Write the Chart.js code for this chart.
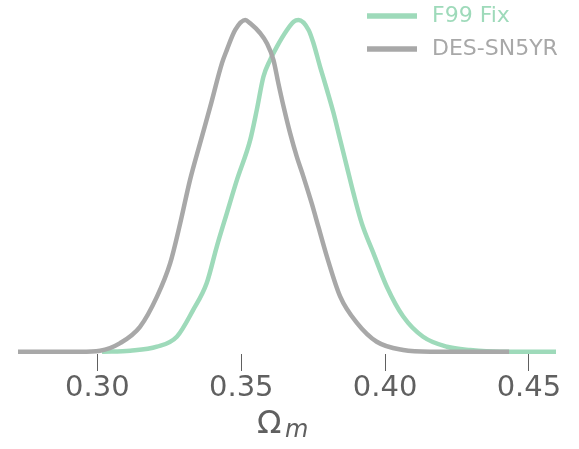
<!DOCTYPE html>
<html>
<head>
<meta charset="utf-8">
<script src="https://cdn.jsdelivr.net/npm/chart.js@4/dist/chart.umd.min.js"></script>
<style>
  html, body { margin: 0; padding: 0; background: #fff; }
  canvas { display: block; }
</style>
</head>
<body>
<canvas id="chart" width="579" height="449"></canvas>
<script>
// Series labels
const SERIES = ['F99 Fix', 'DES-SN5YR'];

// F99 Fix (green) - Omega_m vs normalised density
const F99_X = [0.3016, 0.3114, 0.3207, 0.3276, 0.3333, 0.3380, 0.3415, 0.3450, 0.3485, 0.3531,
               0.3554, 0.3577, 0.3600, 0.3624, 0.3659, 0.3682, 0.3699, 0.3734, 0.3751, 0.3774,
               0.3798, 0.3821, 0.3844, 0.3867, 0.3890, 0.3919, 0.3959, 0.4006, 0.4063, 0.4132,
               0.4215, 0.4296, 0.4400, 0.4594];
const F99_Y = [0, 0.003, 0.015, 0.045, 0.126, 0.207, 0.317, 0.418, 0.518, 0.638,
               0.729, 0.829, 0.879, 0.920, 0.970, 0.995, 1.0, 0.970, 0.930, 0.859,
               0.789, 0.719, 0.638, 0.558, 0.478, 0.387, 0.298, 0.196, 0.106, 0.045,
               0.015, 0.005, 0, 0];

// DES-SN5YR (gray)
const DES_X = [0.2724, 0.2940, 0.3009, 0.3079, 0.3148, 0.3207, 0.3253, 0.3288, 0.3322, 0.3357,
               0.3392, 0.3433, 0.3450, 0.3479, 0.3514, 0.3531, 0.3566, 0.3589, 0.3612, 0.3629,
               0.3647, 0.3670, 0.3693, 0.3716, 0.3745, 0.3768, 0.3798, 0.3844, 0.3902, 0.3971,
               0.4063, 0.4157, 0.4431];
const DES_Y = [0, 0, 0.003, 0.026, 0.075, 0.166, 0.267, 0.388, 0.518, 0.629,
               0.738, 0.870, 0.910, 0.970, 1.0, 0.990, 0.960, 0.930, 0.879, 0.809,
               0.739, 0.658, 0.588, 0.528, 0.447, 0.377, 0.286, 0.166, 0.087, 0.030,
               0.005, 0, 0];

// x-axis ticks
const X_TICKS = [0.30, 0.35, 0.40, 0.45];
const X_MIN = 0.2724;
const X_MAX = 0.4594;

const GREEN = 'rgb(158,218,186)';
const GRAY  = 'rgb(168,168,168)';
const TEXT  = 'rgb(96,96,96)';
const FONT  = "'DejaVu Sans', sans-serif";

function toPoints(xs, ys) {
  return xs.map((x, i) => ({ x, y: ys[i] }));
}

// legend swatch: a short thick line followed by blank space
function swatch(color) {
  const c = document.createElement('canvas');
  c.width = 54;
  c.height = 12;
  const g = c.getContext('2d');
  g.strokeStyle = color;
  g.lineWidth = 5.5;
  g.beginPath();
  g.moveTo(0, 6);
  g.lineTo(50, 6);
  g.stroke();
  return c;
}

// Omega_m axis label (italic subscript m)
const axisLabel = {
  id: 'axisLabel',
  afterDraw(chart) {
    const sx = chart.scales.x;
    const cx = (sx.left + sx.right) / 2;
    const ctx = chart.ctx;
    ctx.save();
    ctx.fillStyle = TEXT;
    ctx.textBaseline = 'alphabetic';
    ctx.textAlign = 'left';
    ctx.font = '32px ' + FONT;
    ctx.fillText('Ω', cx - 30, 433);
    ctx.font = 'italic 24px ' + FONT;
    ctx.fillText('m', cx - 2, 437);
    ctx.restore();
  }
};

// put legend in the top-right corner, over the plot
const legendPlace = {
  id: 'legendPlace',
  beforeDraw(chart) {
    const lg = chart.legend;
    if (!lg) return;
    const w = lg.width, h = lg.height;
    lg.left = 356;
    lg.top = -6;
    lg.right = lg.left + w;
    lg.bottom = lg.top + h;
    lg.adjustHitBoxes();
  }
};

new Chart(document.getElementById('chart'), {
  type: 'line',
  data: {
    datasets: [
      {
        label: SERIES[0],
        data: toPoints(F99_X, F99_Y),
        borderColor: GREEN,
        borderWidth: 4.5,
        pointRadius: 0,
        pointStyle: swatch(GREEN),
        cubicInterpolationMode: 'monotone',
        fill: false,
        order: 1,
      },
      {
        label: SERIES[1],
        data: toPoints(DES_X, DES_Y),
        borderColor: GRAY,
        borderWidth: 4.5,
        pointRadius: 0,
        pointStyle: swatch(GRAY),
        cubicInterpolationMode: 'monotone',
        fill: false,
        order: 0,
      },
    ],
  },
  options: {
    responsive: false,
    animation: false,
    devicePixelRatio: 1,
    layout: { padding: { left: 18, right: 23, top: 0, bottom: 0 } },
    plugins: {
      legend: {
        position: 'chartArea',
        align: 'start',
        labels: {
          usePointStyle: true,
          pointStyleWidth: 54,
          padding: 11,
          font: { family: FONT, size: 22 },
          sort: (a, b) => a.datasetIndex - b.datasetIndex,
          generateLabels(chart) {
            const items = Chart.defaults.plugins.legend.labels.generateLabels(chart);
            items.forEach((it) => { it.fontColor = chart.data.datasets[it.datasetIndex].borderColor; });
            return items;
          },
        },
      },
      tooltip: { enabled: false },
    },
    scales: {
      x: {
        type: 'linear',
        min: X_MIN,
        max: X_MAX,
        afterBuildTicks: (axis) => { axis.ticks = X_TICKS.map((v) => ({ value: v })); },
        afterFit: (axis) => { axis.height = 95; },
        border: { display: false },
        grid: { drawOnChartArea: false, drawTicks: true, tickLength: 17, color: TEXT, lineWidth: 1 },
        ticks: {
          padding: 0,
          maxRotation: 0,
          autoSkip: false,
          color: TEXT,
          font: { family: FONT, size: 29 },
          callback: (v) => Number(v).toFixed(2),
        },
      },
      y: {
        display: false,
        min: -0.00693,
        max: 1.0603,
      },
    },
  },
  plugins: [legendPlace, axisLabel],
});
</script>
</body>
</html>
